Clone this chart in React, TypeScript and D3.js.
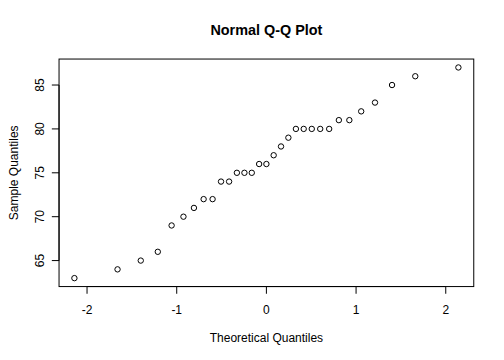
import React from "react";
import * as d3 from "d3";

const sampleValues = [63, 64, 65, 66, 69, 70, 71, 72, 72, 74, 74, 75, 75, 75, 76, 76, 77, 78, 79, 80, 80, 80, 80, 80, 81, 81, 82, 83, 85, 86, 87];
const theoreticalQuantiles = [
  -2.141, -1.660, -1.401, -1.211, -1.057, -0.925, -0.808, -0.700, -0.600, -0.506, -0.416, -0.329, -0.245, -0.163, -0.081,
  0,
  0.081, 0.163, 0.245, 0.329, 0.416, 0.506, 0.600, 0.700, 0.808, 0.925, 1.057, 1.211, 1.401, 1.660, 2.141,
];
const xTicks = [-2, -1, 0, 1, 2];
const yTicks = [65, 70, 75, 80, 85];

const W = 504;
const H = 360;
const left = 59.04;
const right = 473.76;
const top = 59.04;
const bottom = 286.56;

export default function App() {
  const xmin = d3.min(theoreticalQuantiles)!;
  const xmax = d3.max(theoreticalQuantiles)!;
  const xpad = (xmax - xmin) * 0.04;
  const ymin = d3.min(sampleValues)!;
  const ymax = d3.max(sampleValues)!;
  const ypad = (ymax - ymin) * 0.04;
  const x = d3.scaleLinear().domain([xmin - xpad, xmax + xpad]).range([left, right]);
  const y = d3.scaleLinear().domain([ymin - ypad, ymax + ypad]).range([bottom, top]);
  const font = "'Liberation Sans', Arial, Helvetica, sans-serif";
  const tick = 7.2;

  return (
    <svg width={W} height={H} style={{ position: "absolute", left: 0, top: 0, background: "#fff" }} fontFamily={font}>
      <rect x={0} y={0} width={W} height={H} fill="#fff" />
      <text x={(left + right) / 2} y={35} textAnchor="middle" fontWeight="bold" fontSize={14.4} fill="#000">
        Normal Q-Q Plot
      </text>
      <rect x={left} y={top} width={right - left} height={bottom - top} fill="none" stroke="#000" strokeWidth={1} />
      {/* x axis */}
      <line x1={x(xTicks[0])} x2={x(xTicks[xTicks.length - 1])} y1={bottom} y2={bottom} stroke="#000" />
      {xTicks.map((t) => (
        <g key={"xt" + t}>
          <line x1={x(t)} x2={x(t)} y1={bottom} y2={bottom + tick} stroke="#000" />
          <text x={x(t)} y={313.6} textAnchor="middle" fontSize={12} fill="#000">
            {t}
          </text>
        </g>
      ))}
      {/* y axis */}
      <line x1={left} x2={left} y1={y(yTicks[0])} y2={y(yTicks[yTicks.length - 1])} stroke="#000" />
      {yTicks.map((t) => (
        <g key={"yt" + t}>
          <line x1={left - tick} x2={left} y1={y(t)} y2={y(t)} stroke="#000" />
          <text
            transform={`translate(43.6,${y(t)}) rotate(-90)`}
            textAnchor="middle"
            fontSize={12}
            fill="#000"
          >
            {t}
          </text>
        </g>
      ))}
      <text x={(left + right) / 2} y={341.6} textAnchor="middle" fontSize={12} fill="#000">
        Theoretical Quantiles
      </text>
      <text
        transform={`translate(17.6,${(top + bottom) / 2}) rotate(-90)`}
        textAnchor="middle"
        fontSize={12}
        fill="#000"
      >
        Sample Quantiles
      </text>
      {sampleValues.map((v, i) => (
        <circle key={i} cx={x(theoreticalQuantiles[i])} cy={y(v)} r={2.7} fill="none" stroke="#000" strokeWidth={1} />
      ))}
    </svg>
  );
}
